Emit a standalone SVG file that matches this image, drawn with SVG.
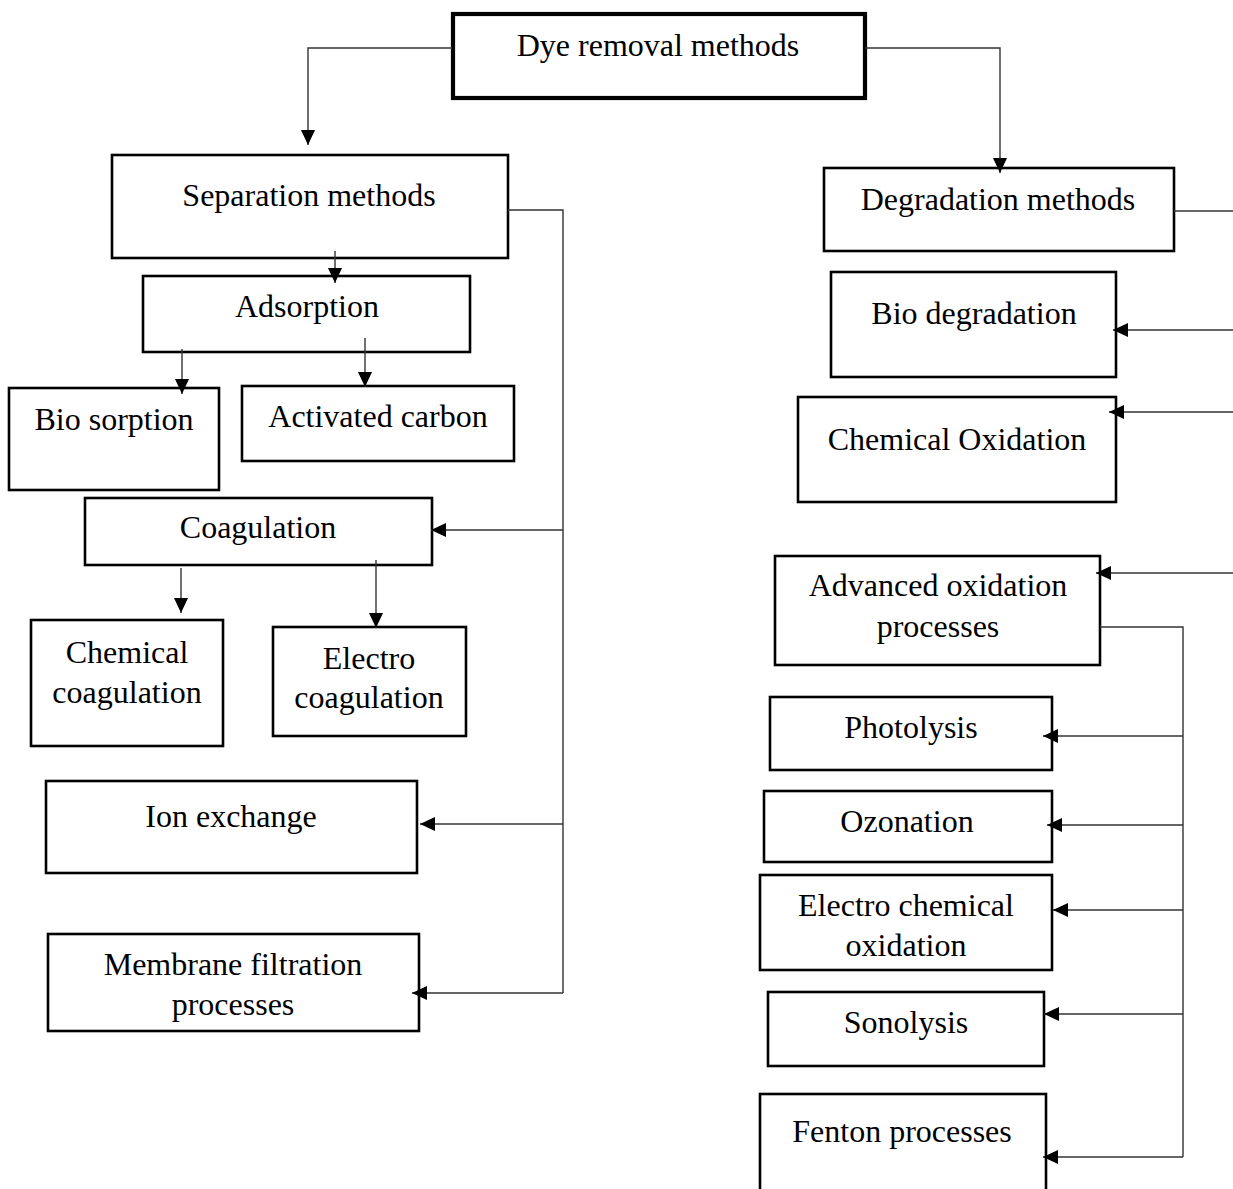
<svg xmlns="http://www.w3.org/2000/svg" width="1233" height="1189" viewBox="0 0 1233 1189">
<style>
.box{fill:#fff;stroke:#000;stroke-width:2.6}
.top{fill:#fff;stroke:#000;stroke-width:4.2}
.lbl{font-family:"Liberation Serif","Times New Roman",serif;font-size:32px;fill:#000;text-anchor:middle}
.con{fill:none;stroke:#333;stroke-width:1.4}
</style>
<defs>
<marker id="ah" markerUnits="userSpaceOnUse" markerWidth="16" markerHeight="14" refX="15" refY="7" orient="auto">
<path d="M0,0 L15,7 L0,14 Z" fill="#000"/>
</marker>
</defs>
<rect width="1233" height="1189" fill="#fff"/>
<g id="dye-removal"><rect class="top" x="453" y="14" width="412" height="84"/><text class="lbl" x="658" y="56">Dye removal methods</text></g>
<g id="separation"><rect class="box" x="112" y="155" width="396" height="103"/><text class="lbl" x="309" y="206">Separation methods</text></g>
<g id="adsorption"><rect class="box" x="143" y="276" width="327" height="76"/><text class="lbl" x="307" y="317">Adsorption</text></g>
<g id="bio-sorption"><rect class="box" x="9" y="388" width="210" height="102"/><text class="lbl" x="114" y="430">Bio sorption</text></g>
<g id="activated-carbon"><rect class="box" x="242" y="386" width="272" height="75"/><text class="lbl" x="378" y="427">Activated carbon</text></g>
<g id="coagulation"><rect class="box" x="85" y="498" width="347" height="67"/><text class="lbl" x="258" y="538">Coagulation</text></g>
<g id="chemical-coagulation"><rect class="box" x="31" y="620" width="192" height="126"/><text class="lbl" x="127" y="663">Chemical</text><text class="lbl" x="127" y="703">coagulation</text></g>
<g id="electro-coagulation"><rect class="box" x="273" y="627" width="193" height="109"/><text class="lbl" x="369" y="669">Electro</text><text class="lbl" x="369" y="708">coagulation</text></g>
<g id="ion-exchange"><rect class="box" x="46" y="781" width="371" height="92"/><text class="lbl" x="231" y="827">Ion exchange</text></g>
<g id="membrane-filtration"><rect class="box" x="48" y="934" width="371" height="97"/><text class="lbl" x="233" y="975">Membrane filtration</text><text class="lbl" x="233" y="1015">processes</text></g>
<g id="degradation"><rect class="box" x="824" y="168" width="350" height="83"/><text class="lbl" x="998" y="210">Degradation methods</text></g>
<g id="bio-degradation"><rect class="box" x="831" y="272" width="285" height="105"/><text class="lbl" x="974" y="324">Bio degradation</text></g>
<g id="chemical-oxidation"><rect class="box" x="798" y="397" width="318" height="105"/><text class="lbl" x="957" y="450">Chemical Oxidation</text></g>
<g id="advanced-oxidation"><rect class="box" x="775" y="556" width="325" height="109"/><text class="lbl" x="938" y="596">Advanced oxidation</text><text class="lbl" x="938" y="637">processes</text></g>
<g id="photolysis"><rect class="box" x="770" y="697" width="282" height="73"/><text class="lbl" x="911" y="738">Photolysis</text></g>
<g id="ozonation"><rect class="box" x="764" y="791" width="288" height="71"/><text class="lbl" x="907" y="832">Ozonation</text></g>
<g id="electro-chemical-oxidation"><rect class="box" x="760" y="875" width="292" height="95"/><text class="lbl" x="906" y="916">Electro chemical</text><text class="lbl" x="906" y="956">oxidation</text></g>
<g id="sonolysis"><rect class="box" x="768" y="992" width="276" height="74"/><text class="lbl" x="906" y="1033">Sonolysis</text></g>
<g id="fenton"><rect class="box" x="760" y="1094" width="286" height="110"/><text class="lbl" x="902" y="1142">Fenton processes</text></g>
<g id="connectors">
<path class="con" d="M452,48 H308 V145" marker-end="url(#ah)"/>
<path class="con" d="M865,48 H1000 V173" marker-end="url(#ah)"/>
<path class="con" d="M508,210 H563 V993"/>
<path class="con" d="M335,251 V283" marker-end="url(#ah)"/>
<path class="con" d="M182,349 V394" marker-end="url(#ah)"/>
<path class="con" d="M365,338 V387" marker-end="url(#ah)"/>
<path class="con" d="M563,530 H431" marker-end="url(#ah)"/>
<path class="con" d="M181,568 V613" marker-end="url(#ah)"/>
<path class="con" d="M376,560 V628" marker-end="url(#ah)"/>
<path class="con" d="M563,824 H420" marker-end="url(#ah)"/>
<path class="con" d="M563,993 H412" marker-end="url(#ah)"/>
<path class="con" d="M1174,211 H1233"/>
<path class="con" d="M1233,330 H1113" marker-end="url(#ah)"/>
<path class="con" d="M1233,412 H1109" marker-end="url(#ah)"/>
<path class="con" d="M1233,573 H1096" marker-end="url(#ah)"/>
<path class="con" d="M1100,627 H1183 V1157"/>
<path class="con" d="M1183,736 H1043" marker-end="url(#ah)"/>
<path class="con" d="M1183,825 H1047" marker-end="url(#ah)"/>
<path class="con" d="M1183,910 H1053" marker-end="url(#ah)"/>
<path class="con" d="M1183,1014 H1044" marker-end="url(#ah)"/>
<path class="con" d="M1183,1157 H1043" marker-end="url(#ah)"/>
</g>
</svg>
